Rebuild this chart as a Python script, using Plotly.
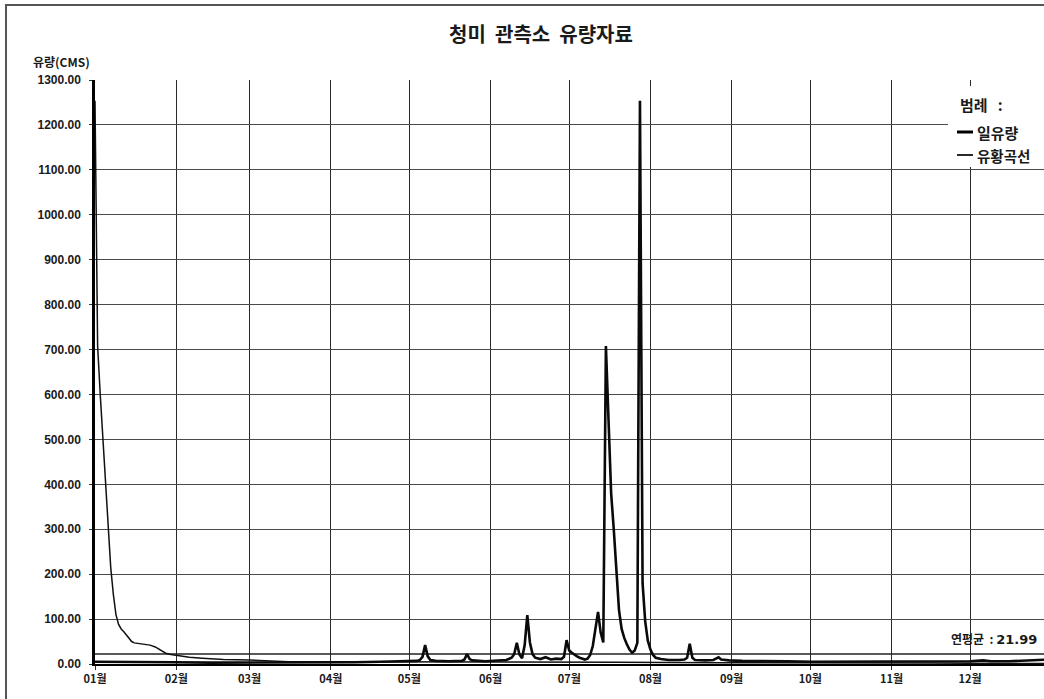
import plotly.graph_objects as go

# ---------------- data ----------------
TITLE = "청미 관측소 유량자료"
Y_TITLE = "유량(CMS)"
LEGEND_TITLE = "범례 :"
SERIES_NAMES = ["일유량", "유황곡선"]
MEAN_LABEL = "연평균"

MONTH_START_DAYS = [1, 32, 60, 91, 121, 152, 182, 213, 244, 274, 305, 335]
MONTH_LABELS = ["01월", "02월", "03월", "04월", "05월", "06월",
                "07월", "08월", "09월", "10월", "11월", "12월"]

Y_TICKS = [0, 100, 200, 300, 400, 500, 600, 700, 800, 900, 1000, 1100, 1200, 1300]

# daily flow (day of year, CMS)
FLOW_DAYS = [1, 10, 20, 31, 45, 60, 75, 91, 100, 110, 118, 124, 125, 126, 127, 128, 129,
             131, 136, 141, 142, 143, 144, 145, 150, 155, 158, 160, 161, 162, 163, 164,
             165, 166, 167, 168, 169, 171, 173, 175, 177, 179, 180, 181, 182, 183, 184,
             185, 186, 187, 188, 189, 190, 191, 192, 193, 194, 195, 196, 197, 198, 199,
             200, 201, 202, 203, 204, 205, 206, 207, 208, 209, 210, 211, 212, 213, 214,
             215, 217, 220, 224, 226, 227, 228, 229, 230, 234, 237, 238, 239, 240, 243,
             248, 255, 265, 275, 285, 295, 305, 312, 315, 325, 335, 340, 343, 350, 356,
             360, 365]
FLOW_VALUES = [5, 5, 4, 4, 3, 3, 3, 4, 4, 5, 6, 7, 9, 16, 42, 17, 9,
               7, 6, 7, 10, 22, 11, 8, 6, 7, 9, 14, 22, 47, 21, 13,
               42, 109, 48, 22, 14, 11, 15, 10, 12, 11, 16, 53, 30, 25, 20,
               17, 14, 12, 10, 12, 20, 40, 75, 116, 70, 48, 708, 520, 380, 300,
               220, 120, 78, 58, 44, 32, 25, 30, 47, 1254, 180, 95, 52, 32, 20,
               14, 11, 9, 9, 10, 14, 45, 14, 9, 8, 9, 12, 15, 10, 8,
               7, 6, 6, 5, 5, 5, 5, 6, 5, 5, 6, 8, 6, 6, 8,
               10, 10]

# flow duration curve (rank in days, CMS)
DURATION_RANKS = [1, 2, 3, 4, 5, 6, 7, 8, 9, 10, 11, 12, 13, 14, 15, 16, 18, 20, 22,
                  24, 26, 28, 30, 33, 37, 42, 50, 60, 75, 90, 120, 160, 200, 240, 280,
                  320, 365]
DURATION_VALUES = [1254, 708, 600, 500, 390, 300, 215, 155, 110, 88, 78, 72, 64, 56, 50,
                   47, 45, 43, 42, 38, 30, 24, 21, 18, 15, 13, 10, 9, 5, 5, 5, 4, 4, 3,
                   3, 2, 1]

ANNUAL_MEAN = 21.99

# ---------------- layout helpers ----------------
W, H = 1044, 699
L, R, T, B = 95, 1044, 80, 664


def px(x):
    return (x - L) / (R - L)


def py(y):
    return (B - y) / (B - T)


NUM_FONT = "Arial, 'Liberation Sans', 'Noto Sans CJK KR', sans-serif"
KR_FONT = "'Noto Sans CJK KR', 'Noto Sans', sans-serif"
INK = "#1a1a1a"

fig = go.Figure()

fig.add_trace(go.Scatter(
    x=[MONTH_START_DAYS[0], 365], y=[ANNUAL_MEAN, ANNUAL_MEAN],
    mode="lines", line=dict(color="#222222", width=1.5),
    name="연평균", showlegend=False, hoverinfo="skip"))

fig.add_trace(go.Scatter(
    x=DURATION_RANKS, y=DURATION_VALUES, mode="lines",
    line=dict(color="#111111", width=1.5), name=SERIES_NAMES[1], showlegend=False))

fig.add_trace(go.Scatter(
    x=FLOW_DAYS, y=FLOW_VALUES, mode="lines",
    line=dict(color="#0a0a0a", width=2.6), name=SERIES_NAMES[0], showlegend=False))

fig.update_xaxes(
    range=[1, 1 + (R - L) / 2.62],
    tickvals=MONTH_START_DAYS, ticktext=MONTH_LABELS,
    showgrid=True, gridcolor="#2a2a2a", gridwidth=1.3,
    zeroline=False, showline=True, linecolor="#000000", linewidth=2,
    ticks="outside", ticklen=4, tickcolor="#333333",
    tickfont=dict(family=KR_FONT, size=11, color=INK, weight="bold"),
)
fig.update_yaxes(
    range=[0, 1300], tickvals=Y_TICKS, tickformat=".2f",
    showgrid=True, gridcolor="#4a4a4a", gridwidth=1,
    zeroline=False, showline=True, linecolor="#000000", linewidth=2.5,
    ticks="outside", ticklen=3, tickcolor="#333333", ticklabelstandoff=6,
    tickfont=dict(family=NUM_FONT, size=12, color=INK, weight="bold"),
)

shapes = [
    # outer frame of the scanned sheet
    dict(type="rect", xref="paper", yref="paper",
         x0=px(6), x1=px(1100), y0=py(760), y1=py(5),
         line=dict(color="#555555", width=2), fillcolor="rgba(0,0,0,0)", layer="above"),
    # legend box
    dict(type="rect", xref="paper", yref="paper",
         x0=px(948), x1=px(1060), y0=py(167), y1=py(86),
         line=dict(width=0), fillcolor="white", layer="above"),
    dict(type="line", xref="paper", yref="paper",
         x0=px(957), x1=px(973), y0=py(132), y1=py(132),
         line=dict(color="#000000", width=3), layer="above"),
    dict(type="line", xref="paper", yref="paper",
         x0=px(957), x1=px(973), y0=py(155), y1=py(155),
         line=dict(color="#111111", width=1.8), layer="above"),
]

annotations = [
    dict(text=Y_TITLE, xref="paper", yref="paper", x=px(31), y=py(61),
         xanchor="left", yanchor="middle", showarrow=False,
         font=dict(family=KR_FONT, size=12, color=INK, weight="bold")),
    dict(text=LEGEND_TITLE.replace(" ", "\u00a0\u00a0\u00a0"), xref="paper", yref="paper",
         x=px(958), y=py(104), xanchor="left", yanchor="middle", showarrow=False,
         font=dict(family=KR_FONT, size=15, color=INK, weight="bold")),
    dict(text=SERIES_NAMES[0], xref="paper", yref="paper", x=px(975), y=py(132),
         xanchor="left", yanchor="middle", showarrow=False,
         font=dict(family=KR_FONT, size=15, color=INK, weight="bold")),
    dict(text=SERIES_NAMES[1], xref="paper", yref="paper", x=px(975), y=py(155),
         xanchor="left", yanchor="middle", showarrow=False,
         font=dict(family=KR_FONT, size=14.5, color=INK, weight="bold")),
    dict(text=(f"{MEAN_LABEL}\u00a0\u00a0:\u00a0<span style='font-family:DejaVu Sans;"
               f"font-size:13px'>{ANNUAL_MEAN:.2f}</span>"),
         xref="paper", yref="paper",
         x=px(949), y=py(638), xanchor="left", yanchor="middle", showarrow=False,
         font=dict(family=KR_FONT, size=12, color=INK, weight="bold")),
]

fig.update_layout(
    width=W, height=H, autosize=False,
    margin=dict(l=L, r=W - R, t=T, b=H - B, pad=0),
    paper_bgcolor="white", plot_bgcolor="white",
    showlegend=False,
    title=dict(text=TITLE.replace(" ", "\u00a0\u00a0"), x=541 / W, xanchor="center",
               y=1 - 35 / H, yanchor="middle", xref="container", yref="container",
               font=dict(family=KR_FONT, size=20, color=INK, weight="bold")),
    shapes=shapes, annotations=annotations,
)

fig.write_html(
    "out.html",
    config={"displayModeBar": False},
    post_script="document.body.style.margin='0';document.body.style.overflow='hidden';",
)
